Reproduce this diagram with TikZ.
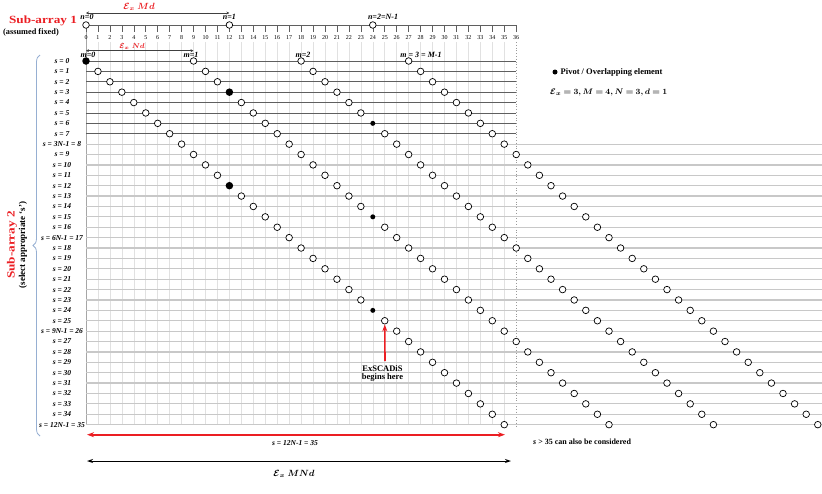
\documentclass[tikz,border=0pt]{standalone}
\usepackage{fontspec}
\setmainfont{Liberation Serif}
\usepackage{amsmath}
\usepackage{bm}
\usetikzlibrary{arrows.meta,decorations.pathreplacing}
\definecolor{subred}{RGB}{235,30,35}
\definecolor{bracecol}{RGB}{150,175,210}
\definecolor{rowdark}{RGB}{95,95,95}
\definecolor{rowlight}{RGB}{200,200,200}
\definecolor{gridcol}{RGB}{225,225,225}
\begin{document}
\begin{tikzpicture}[x=1pt,y=-1pt,
  ring/.style={circle,draw=black,line width=0.7pt,fill=white,inner sep=0pt,minimum size=6.6pt},
  pivbig/.style={circle,fill=black,inner sep=0pt,minimum size=7.5pt},
  pivsm/.style={circle,fill=black,inner sep=0pt,minimum size=5pt},
  rowlab/.style={font=\fontsize{7.5}{8}\selectfont\bfseries\itshape,inner sep=0pt},
  ticklab/.style={font=\fontsize{6}{7}\selectfont,inner sep=0pt},
  idxlab/.style={font=\fontsize{8}{9}\selectfont\bfseries\itshape,inner sep=0pt},
  redlab/.style={text=subred,font=\fontsize{9}{10}\selectfont,inner sep=0pt},
  boldlab/.style={font=\fontsize{8.5}{10}\selectfont\bfseries,inner sep=0pt},
  dimarrow/.style={{Stealth[length=3pt,width=3pt]}-{Stealth[length=3pt,width=3pt]},line width=0.6pt,black!75},
  redarrow/.style={{Stealth[length=7pt,width=5pt]}-{Stealth[length=7pt,width=5pt]},line width=1.6pt,subred},
  blackarrow/.style={{Stealth[length=6pt,width=4pt]}-{Stealth[length=6pt,width=4pt]},line width=1pt,black}
]
\useasboundingbox (0,0) rectangle (822,493);

% ---------- grid ----------
\foreach \i in {1,...,35}{
  \draw[gridcol,line width=0.6pt] (86+11.95*\i,42) -- (86+11.95*\i,424.5);
}
\draw[gray!70,line width=0.6pt] (86,25) -- (86,424.5);
\draw[gray!80,dotted,line width=0.8pt] (516.2,42) -- (516.2,426);

% ---------- rows ----------
\foreach \s in {0,...,7}{
  \draw[rowdark,line width=0.9pt] (86,61+10.39*\s) -- (516.2,61+10.39*\s);
}
\foreach \s in {8,...,35}{
  \draw[rowlight,line width=1.2pt] (86,61+10.39*\s) -- (822,61+10.39*\s);
}

% ---------- top axis (sub-array 1) ----------
\draw[rowdark,line width=0.8pt] (86,25) -- (516.7,25);
\foreach \i in {0,...,36}{
  \draw[rowdark,line width=0.6pt] (86+11.95*\i,25) -- (86+11.95*\i,32);
  \node[ticklab] (t\i) at (86+11.95*\i,38) {\i};
}
\node[ring] (n0) at (86,25) {};
\node[ring] (n1) at (229.4,25) {};
\node[ring] (n2) at (372.8,25) {};
\node[idxlab] (ln0) at (87,17) {n=0};
\node[idxlab] (ln1) at (229.4,17) {n=1};
\node[idxlab] (ln2) at (383,17) {n=2=N-1};

\coordinate (md1) at (86,13);
\coordinate (md2) at (229.4,13);
\draw[dimarrow] (md1) -- (md2);
\node[redlab] (lmd) at (139,6.5) {$\bm{\mathcal{E}_x}\;\bm{Md}$};

\node[font=\fontsize{11}{12}\selectfont\bfseries,text=subred,inner sep=0pt] (sa1) at (43,21) {\scalebox{1.2}[1]{Sub-array 1}};
\node[font=\fontsize{8.3}{10}\selectfont\bfseries,inner sep=0pt] (sa1b) at (31,32) {(assumed fixed)};

% ---------- sub-array 2 spacing arrow ----------
\coordinate (nd1) at (86,50.7);
\coordinate (nd2) at (193.5,50.7);
\draw[dimarrow] (nd1) -- (nd2);
\node[redlab,font=\fontsize{7.5}{9}\selectfont] (lnd) at (132,46.5) {$\bm{\mathcal{E}_x}\;\bm{Nd}$};
\node[idxlab] (lm0) at (88,54.5) {m=0};
\node[idxlab] (lm1) at (191,54.5) {m=1};
\node[idxlab] (lm2) at (303,54.5) {m=2};
\node[idxlab] (lm3) at (421,54.5) {m = 3 = M-1};

% ---------- elements ----------
\foreach \s in {0,...,35}{
  \pgfmathsetmacro{\yy}{61+10.39*\s}
  \foreach \m in {0,...,3}{
    \pgfmathtruncatemacro{\p}{\s+9*\m}
    \pgfmathsetmacro{\xx}{ifthenelse(\p<37, 86+11.95*\p, 516.2+11.6*(\p-36))}
    \ifnum\p=0
      \node[pivbig] (c\s-\m) at (\xx,\yy) {};
    \else\ifnum\p=12
      \node[pivbig] (c\s-\m) at (\xx,\yy) {};
    \else\ifnum\p=24
      \node[pivsm] (c\s-\m) at (\xx,\yy) {};
    \else
      \node[ring] (c\s-\m) at (\xx,\yy) {};
    \fi\fi\fi
  }
}

% ---------- row labels ----------
\foreach \s in {0,...,35}{
  \ifnum\s=8 \def\rtxt{s = 3N-1 = 8}\else
  \ifnum\s=17 \def\rtxt{s = 6N-1 = 17}\else
  \ifnum\s=26 \def\rtxt{s = 9N-1 = 26}\else
  \ifnum\s=35 \def\rtxt{s = 12N-1 = 35}\else
  \def\rtxt{s = \s}\fi\fi\fi\fi
  \node[rowlab] (r\s) at (62,61+10.39*\s) {\rtxt};
}

% ---------- brace and sub-array 2 label ----------
\coordinate (bb) at (40,436);
\coordinate (bt) at (40,55);
\draw[bracecol,line width=0.8pt,decorate,decoration={brace,amplitude=7pt}] (bb) -- (bt);
\node[font=\fontsize{11}{12}\selectfont\bfseries,text=subred,inner sep=0pt,rotate=90] (sa2) at (12,245) {\scalebox{1.2}[1]{Sub-array 2}};
\node[font=\fontsize{9}{10}\selectfont\bfseries,inner sep=0pt,rotate=90] (sa2b) at (23,245) {(select appropriate `s')};

% ---------- legend ----------
\node[pivsm] (legdot) at (555,72) {};
\node[boldlab,anchor=west] (legtxt) at (560.5,72) {Pivot / Overlapping element};
\node[inner sep=0pt,anchor=west,font=\fontsize{8.5}{10}\selectfont] (legeq) at (550,92) {$\bm{\mathcal{E}_x = 3, M = 4, N = 3, d = 1}$};

% ---------- ExSCADiS arrow ----------
\coordinate (exa) at (385,361);
\draw[-{Stealth[length=7pt,width=5pt]},line width=1.6pt,subred] (exa) -- (c25-0);
\node[boldlab,align=center] (exl) at (382.5,373.5) {ExSCADiS\\[-1.5pt]begins here};

% ---------- bottom arrows ----------
\coordinate (ra1) at (87,434.7);
\coordinate (ra2) at (505,434.7);
\draw[redarrow] (ra1) -- (ra2);
\node[rowlab] (ral) at (295,443.5) {s = 12N-1 = 35};
\coordinate (ba1) at (87,461);
\coordinate (ba2) at (511,461);
\draw[blackarrow] (ba1) -- (ba2);
\node[inner sep=0pt,font=\fontsize{9}{10}\selectfont] (bal) at (294,474) {$\bm{\mathcal{E}_x}\;\bm{MNd}$};

\node[boldlab,anchor=west,font=\fontsize{8}{9}\selectfont\bfseries] (more) at (533,442) {\textit{s} > 35 can also be considered};
\end{tikzpicture}
\end{document}
